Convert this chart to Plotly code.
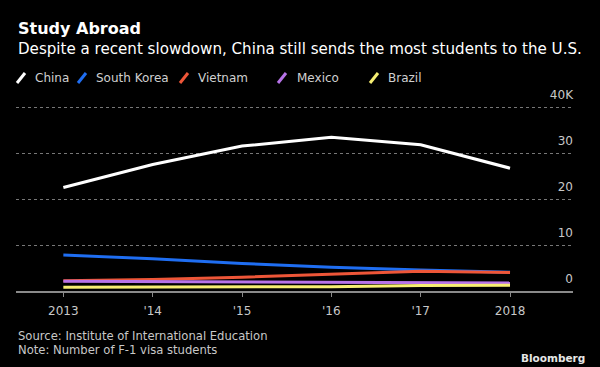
import plotly.graph_objects as go

# ---- data ----
years = [2013, 2014, 2015, 2016, 2017, 2018]
year_labels = ["2013", "'14", "'15", "'16", "'17", "2018"]
china = [22.5, 27.5, 31.5, 33.4, 31.8, 26.7]
south_korea = [7.8, 7.0, 6.0, 5.15, 4.55, 4.1]
vietnam = [2.25, 2.5, 3.0, 3.6, 4.3, 4.0]
mexico = [2.1, 2.05, 2.0, 1.95, 1.8, 1.75]
brazil = [0.8, 0.85, 0.9, 0.95, 1.2, 1.25]
y_tickvals = [0, 10, 20, 30, 40]
y_ticktext = ["0", "10", "20", "30", "40K"]

series = [
    ("China", china, "#ffffff"),
    ("South Korea", south_korea, "#1f6ef2"),
    ("Vietnam", vietnam, "#ee5638"),
    ("Mexico", mexico, "#b773e8"),
    ("Brazil", brazil, "#f6ee72"),
]

# ---- layout helpers (pixel -> paper) ----
W, H = 600, 367
Y_TOP = 45  # extra headroom so the top tick label stays inside the plot
L, R, B = 16, 27, 76
PH_PER_UNIT = 4.6
PH = Y_TOP * PH_PER_UNIT
T = H - B - PH
PW = W - L - R


def px(x):
    return (x - L) / PW


def py(y):
    return (H - B - y) / PH


FONT = "DejaVu Sans"

fig = go.Figure()
for name, vals, col in series:
    fig.add_trace(go.Scatter(x=years, y=vals, name=name, mode="lines",
                             line=dict(color=col, width=3), showlegend=False,
                             hoverinfo="skip"))

annotations = [
    dict(text="<b>Study Abroad</b>", x=px(16), y=py(29), xanchor="left", yanchor="middle",
         font=dict(family=FONT, size=16, color="#ffffff")),
    dict(text="Despite a recent slowdown, China still sends the most students to the U.S.",
         x=px(16), y=py(49), xanchor="left", yanchor="middle",
         font=dict(family=FONT, size=15.1, color="#ffffff")),
    dict(text="Source: Institute of International Education", x=px(16), y=py(336),
         xanchor="left", yanchor="middle", font=dict(family=FONT, size=11.6, color="#c8c8c8")),
    dict(text="Note: Number of F-1 visa students", x=px(16), y=py(350),
         xanchor="left", yanchor="middle", font=dict(family=FONT, size=11.6, color="#c8c8c8")),
    dict(text="<b>Bloomberg</b>", x=px(587), y=py(358), xanchor="right", yanchor="middle",
         font=dict(family=FONT, size=10.5, color="#e6e6e6")),
]

shapes = []
legend_icon_x = [17, 78, 180, 278, 370]
legend_text_x = [33, 94, 196, 295, 386]
legend_y = 78
for (name, vals, col), ix, tx in zip(series, legend_icon_x, legend_text_x):
    shapes.append(dict(type="line", xref="paper", yref="paper",
                       x0=px(ix), y0=py(legend_y + 5), x1=px(ix + 8), y1=py(legend_y - 5),
                       line=dict(color=col, width=3)))
    annotations.append(dict(text=name, x=px(tx), y=py(legend_y), xanchor="left", yanchor="middle",
                            font=dict(family=FONT, size=12, color="#d0d0d0")))

for a in annotations:
    a.update(xref="paper", yref="paper", showarrow=False)

fig.update_layout(
    width=W, height=H,
    margin=dict(l=L, r=R, t=T, b=B, pad=0),
    paper_bgcolor="#000000", plot_bgcolor="#000000",
    annotations=annotations, shapes=shapes,
    showlegend=False,
    xaxis=dict(range=[2012.47, 2018.705], tickvals=years, ticktext=year_labels,
               showgrid=False, zeroline=False, showline=True, linecolor="#8a8a8a", linewidth=2,
               ticks="outside", ticklen=4, tickwidth=1, tickcolor="#8a8a8a",
               ticklabelstandoff=4,
               tickfont=dict(family=FONT, size=12, color="#c8c8c8")),
    yaxis=dict(range=[0, Y_TOP], tickvals=y_tickvals, ticktext=y_ticktext, side="right",
               ticklabelposition="inside top", showgrid=True, gridcolor="#777777",
               griddash="dot", gridwidth=1, zeroline=False, showline=False, ticks="",
               ticklabelstandoff=-3, ticklabelshift=-4,
               tickfont=dict(family=FONT, size=12, color="#c8c8c8")),
)

fig.write_html(
    "out.html",
    config={"displayModeBar": False},
    post_script="document.body.style.margin='0';document.body.style.background='#000';",
)
